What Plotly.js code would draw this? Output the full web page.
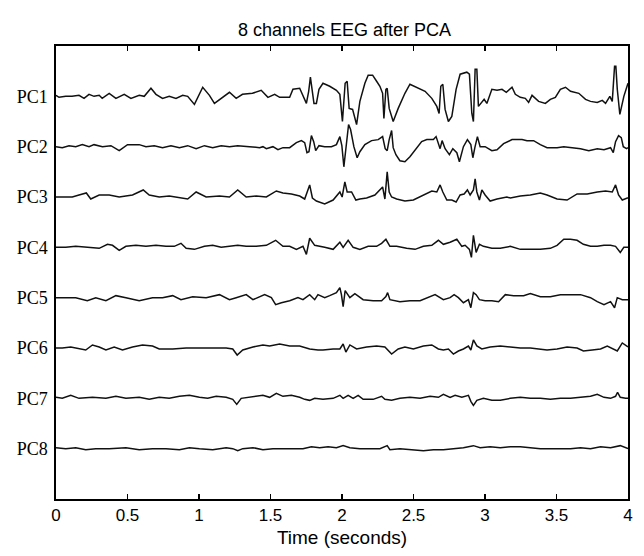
<!DOCTYPE html>
<html><head><meta charset="utf-8">
<script src="https://cdn.plot.ly/plotly-3.0.1.min.js"></script>
<style>html,body{margin:0;padding:0;background:#fff}#chart{width:644px;height:556px}</style>
</head><body><div id="chart"></div>
<script>
const channelNames = ['PC1','PC2','PC3','PC4','PC5','PC6','PC7','PC8'];
const xTickVals = [0,0.5,1,1.5,2,2.5,3,3.5,4];
const xTickText = ['0','0.5','1','1.5','2','2.5','3','3.5','4'];

const pc1Time = [0,0.021,0.068,0.112,0.161,0.196,0.231,0.266,0.302,0.323,0.372,0.419,0.477,0.524,0.582,0.617,0.664,0.699,0.745,0.792,0.839,0.886,0.921,0.968,1.026,1.073,1.108,1.155,1.213,1.260,1.304,1.374,1.435,1.482,1.529,1.564,1.634,1.657,1.704,1.751,1.767,1.779,1.790,1.804,1.821,1.839,1.867,1.914,1.961,1.985,2.003,2.022,2.036,2.050,2.074,2.102,2.125,2.160,2.183,2.214,2.242,2.265,2.284,2.293,2.307,2.316,2.330,2.358,2.393,2.440,2.475,2.522,2.581,2.628,2.663,2.679,2.691,2.705,2.721,2.744,2.768,2.798,2.826,2.873,2.891,2.908,2.919,2.931,2.943,2.954,2.971,2.994,3.013,3.048,3.084,3.119,3.149,3.189,3.212,3.247,3.282,3.305,3.329,3.375,3.422,3.457,3.492,3.527,3.563,3.598,3.656,3.703,3.738,3.785,3.820,3.843,3.873,3.890,3.906,3.915,3.925,3.943,3.971,3.995,4.000];
const pc1Amp = [1,-1,0,0,1,-2,2,0,1,-2,3,-2,2,-2,1,0,8,2,-2,0,-2,1,0,-8,9,1,-7,-2,4,-2,2,3,6,-1,2,-1,-1,7,8,-7,5,19,7,-7,-7,7,13,10,6,2,-25,13,15,-12,-13,-28,-5,13,21,21,15,10,3,-22,7,8,-12,-25,-12,3,12,9,5,-2,-10,-17,10,12,-13,-25,-20,7,22,24,22,-17,-25,27,27,-10,-7,-3,-7,7,6,7,4,9,2,-1,-2,-6,1,-5,-7,-3,-1,7,9,5,3,-3,-5,-6,-4,-7,0,-5,30,30,7,-18,0,12,13];

const pc2Time = [0,0.044,0.091,0.138,0.184,0.231,0.266,0.325,0.384,0.442,0.500,0.582,0.629,0.687,0.745,0.804,0.863,0.921,0.980,1.038,1.096,1.155,1.213,1.271,1.353,1.424,1.447,1.471,1.517,1.552,1.587,1.634,1.681,1.716,1.739,1.755,1.769,1.786,1.802,1.816,1.839,1.879,1.926,1.961,1.985,1.999,2.013,2.032,2.046,2.060,2.083,2.106,2.125,2.160,2.207,2.253,2.284,2.302,2.316,2.330,2.347,2.358,2.377,2.405,2.440,2.475,2.511,2.557,2.593,2.639,2.658,2.674,2.686,2.700,2.721,2.751,2.775,2.803,2.821,2.849,2.877,2.901,2.915,2.929,2.947,2.966,3.001,3.048,3.084,3.130,3.189,3.259,3.294,3.340,3.387,3.434,3.504,3.551,3.609,3.668,3.726,3.785,3.832,3.878,3.897,3.913,3.934,3.953,3.967,3.990,4.000];
const pc2Amp = [0,-1,1,0,2,0,2,0,1,-4,2,2,0,1,-1,1,-1,1,-2,1,-1,1,0,1,0,-1,0,-2,0,-3,-1,-1,4,6,4,-6,-5,11,5,-4,1,0,0,2,10,1,-20,7,22,17,0,-11,-5,2,6,7,10,-2,-4,7,16,-1,-8,-14,-15,-10,-3,5,7,7,10,2,-2,6,-2,-8,-2,-6,-15,0,7,2,-11,-1,10,0,0,-4,-3,3,7,7,6,6,2,-1,-1,0,-1,-2,-4,-2,-3,-1,-6,5,11,9,0,-2,-1];

const pc3Time = [0,0.114,0.161,0.212,0.243,0.302,0.372,0.442,0.535,0.610,0.652,0.722,0.792,0.863,0.921,0.980,1.050,1.143,1.213,1.271,1.330,1.400,1.471,1.541,1.587,1.646,1.704,1.739,1.774,1.793,1.821,1.879,1.938,1.985,2.001,2.020,2.036,2.067,2.097,2.125,2.172,2.230,2.265,2.284,2.300,2.316,2.330,2.347,2.382,2.440,2.499,2.569,2.628,2.663,2.686,2.705,2.733,2.768,2.798,2.826,2.854,2.877,2.896,2.919,2.931,2.943,2.961,2.978,3.001,3.036,3.084,3.153,3.177,3.247,3.317,3.387,3.434,3.504,3.574,3.644,3.715,3.785,3.843,3.890,3.913,3.934,3.960,3.995,4.000];
const pc3Amp = [0,0,2,4,-2,2,2,0,2,7,2,0,1,-1,-2,5,0,1,0,7,0,1,0,6,4,3,1,-2,12,-1,-4,-7,-3,5,0,15,5,5,-3,-2,-1,2,7,10,-2,25,5,0,-2,-4,-3,2,6,5,12,5,-3,-3,-5,2,3,7,2,7,18,5,-3,7,2,-4,-2,0,-1,1,2,4,2,-2,-3,3,3,5,6,5,12,2,-3,-1,-1];

const pc4Time = [0,0.068,0.138,0.231,0.302,0.360,0.395,0.442,0.489,0.559,0.629,0.699,0.769,0.827,0.874,0.910,0.968,1.038,1.096,1.155,1.213,1.271,1.330,1.400,1.471,1.536,1.587,1.634,1.681,1.727,1.751,1.774,1.809,1.856,1.879,1.938,1.985,2.008,2.043,2.078,2.125,2.183,2.242,2.277,2.307,2.335,2.382,2.452,2.511,2.569,2.628,2.674,2.709,2.756,2.803,2.838,2.861,2.891,2.905,2.919,2.938,2.961,2.989,3.048,3.107,3.177,3.247,3.317,3.387,3.457,3.504,3.551,3.598,3.644,3.688,3.738,3.785,3.832,3.878,3.913,3.946,3.971,4.000];
const pc4Amp = [0,0,1,0,-1,3,2,-3,1,2,1,2,1,1,4,-1,-2,1,2,0,1,2,1,1,2,7,1,1,-2,1,-7,9,2,1,0,-2,5,0,7,0,-2,1,1,4,8,1,1,-1,-2,1,2,7,3,5,8,1,2,-2,-10,12,-5,3,1,-1,-1,1,-2,-2,-2,-1,2,8,8,7,3,1,1,2,2,1,-5,0,0];

const pc5Time = [0,0.138,0.219,0.278,0.349,0.419,0.489,0.582,0.675,0.745,0.816,0.874,0.956,1.050,1.143,1.213,1.260,1.330,1.377,1.459,1.506,1.536,1.576,1.634,1.692,1.727,1.774,1.809,1.832,1.879,1.914,1.961,1.985,1.996,2.008,2.022,2.055,2.090,2.148,2.218,2.277,2.307,2.319,2.335,2.405,2.475,2.546,2.593,2.651,2.709,2.756,2.784,2.814,2.849,2.884,2.901,2.919,2.938,2.961,3.001,3.048,3.095,3.142,3.200,3.270,3.317,3.387,3.457,3.527,3.598,3.668,3.738,3.785,3.832,3.878,3.906,3.925,3.960,4.000];
const pc5Amp = [0,0,-3,0,-3,2,0,-3,0,0,2,-2,1,0,3,-2,0,3,-2,3,0,-7,-5,-3,0,-2,3,-2,3,0,2,5,10,3,-9,7,0,4,-2,-3,-3,1,5,-2,-4,-3,-3,0,3,-2,0,3,0,-5,-2,-10,5,3,-2,-3,-3,-4,3,2,2,4,1,1,3,3,3,0,-4,-7,-4,-10,0,-2,-2];

const pc6Time = [0,0.044,0.103,0.161,0.208,0.255,0.302,0.349,0.407,0.465,0.535,0.605,0.675,0.722,0.816,0.910,1.003,1.096,1.190,1.236,1.267,1.306,1.377,1.447,1.494,1.564,1.634,1.704,1.774,1.832,1.867,1.938,1.985,2.008,2.027,2.055,2.102,2.172,2.242,2.300,2.347,2.393,2.440,2.499,2.569,2.628,2.674,2.709,2.744,2.779,2.814,2.849,2.884,2.901,2.919,2.943,2.978,3.036,3.107,3.177,3.247,3.317,3.387,3.434,3.504,3.574,3.644,3.688,3.750,3.808,3.855,3.901,3.925,3.960,3.995,4.000];
const pc6Amp = [0,0,1,-1,-2,3,1,-2,1,-2,1,3,2,-1,-1,0,0,0,0,-1,-7,-2,1,3,2,4,2,2,-1,-2,-2,-1,-1,4,-4,3,-1,1,2,1,-6,-1,1,-1,2,3,-1,-2,-1,-6,-3,-1,2,-2,8,2,-1,1,2,1,0,0,-1,-2,-1,1,0,-3,-2,-1,2,-1,-3,5,1,1];

const pc7Time = [0,0.044,0.103,0.161,0.255,0.349,0.419,0.489,0.582,0.652,0.722,0.792,0.863,0.933,1.003,1.061,1.120,1.190,1.236,1.264,1.295,1.377,1.447,1.494,1.541,1.587,1.646,1.704,1.739,1.774,1.809,1.867,1.938,1.985,2.008,2.043,2.078,2.113,2.148,2.218,2.277,2.300,2.347,2.405,2.475,2.546,2.616,2.674,2.709,2.756,2.791,2.838,2.884,2.901,2.919,2.943,2.989,3.048,3.107,3.177,3.247,3.317,3.387,3.457,3.527,3.598,3.668,3.738,3.785,3.832,3.878,3.913,3.927,3.946,3.983,4.000];
const pc7Amp = [1,0,3,0,1,0,2,0,1,-1,1,0,2,3,1,0,2,1,-1,-6,0,2,3,1,5,2,3,1,-1,-2,0,-1,0,3,0,3,0,3,-1,-1,2,-1,-2,0,1,0,2,1,4,1,3,1,3,-3,-7,-2,0,-2,-2,0,1,0,0,-1,0,0,1,2,4,1,0,2,6,1,0,0];

const pc8Time = [0,0.068,0.138,0.208,0.278,0.372,0.489,0.582,0.675,0.769,0.863,0.933,1.003,1.096,1.190,1.236,1.271,1.306,1.377,1.447,1.517,1.587,1.657,1.727,1.786,1.844,1.903,1.961,2.008,2.055,2.125,2.195,2.265,2.316,2.335,2.405,2.475,2.569,2.639,2.709,2.779,2.849,2.919,2.966,3.036,3.107,3.177,3.247,3.317,3.387,3.457,3.527,3.598,3.668,3.738,3.808,3.878,3.946,3.995,4.000];
const pc8Amp = [1,0,1,-1,0,0,1,-1,0,0,-1,1,0,-1,1,0,-2,0,1,-1,0,0,0,0,2,1,2,1,3,1,0,0,0,3,-1,0,-1,-2,-1,-1,0,1,3,1,2,1,2,2,1,0,0,0,0,1,0,2,1,3,0,0];

const channelTimes = [pc1Time,pc2Time,pc3Time,pc4Time,pc5Time,pc6Time,pc7Time,pc8Time];
const channelAmps = [pc1Amp,pc2Amp,pc3Amp,pc4Amp,pc5Amp,pc6Amp,pc7Amp,pc8Amp];

const SPACING = 50;
const n = channelNames.length;
const offsets = channelNames.map((_, i) => (n - i) * SPACING);

const traces = channelNames.map((name, i) => ({
  x: channelTimes[i],
  y: channelAmps[i].map(a => offsets[i] + a),
  type: 'scatter', mode: 'lines', name: name,
  line: {color: '#111', width: 1.5},
  hoverinfo: 'skip'
}));

const SANS = 'Liberation Sans, Arial, sans-serif';
const layout = {
  width: 644, height: 556,
  margin: {l: 56, r: 16, t: 46, b: 57},
  paper_bgcolor: '#fff', plot_bgcolor: '#fff',
  showlegend: false,
  title: {text: '8 channels EEG after PCA', x: 0.535, xanchor: 'center', y: 0.946, yanchor: 'middle',
          font: {family: SANS, size: 18, color: '#000'}},
  xaxis: {
    range: [0, 4], tickvals: xTickVals, ticktext: xTickText,
    ticks: 'inside', ticklen: 5, tickwidth: 1.4, tickcolor: '#000',
    showline: true, linecolor: '#000', linewidth: 1.7, mirror: 'ticks',
    showgrid: false, zeroline: false,
    tickfont: {family: SANS, size: 17, color: '#000'},
    title: {text: 'Time (seconds)', standoff: 6, font: {family: SANS, size: 19, color: '#000'}}
  },
  yaxis: {
    range: [0, (n + 1) * SPACING], tickvals: offsets, ticktext: channelNames,
    ticks: '', showline: true, linecolor: '#000', linewidth: 1.7, mirror: true,
    showgrid: false, zeroline: false, ticklabelstandoff: 3,
    tickfont: {family: 'Liberation Serif, Times New Roman, serif', size: 18, color: '#000'}
  }
};

Plotly.newPlot('chart', traces, layout, {displayModeBar: false, staticPlot: true});
</script>
</body></html>
